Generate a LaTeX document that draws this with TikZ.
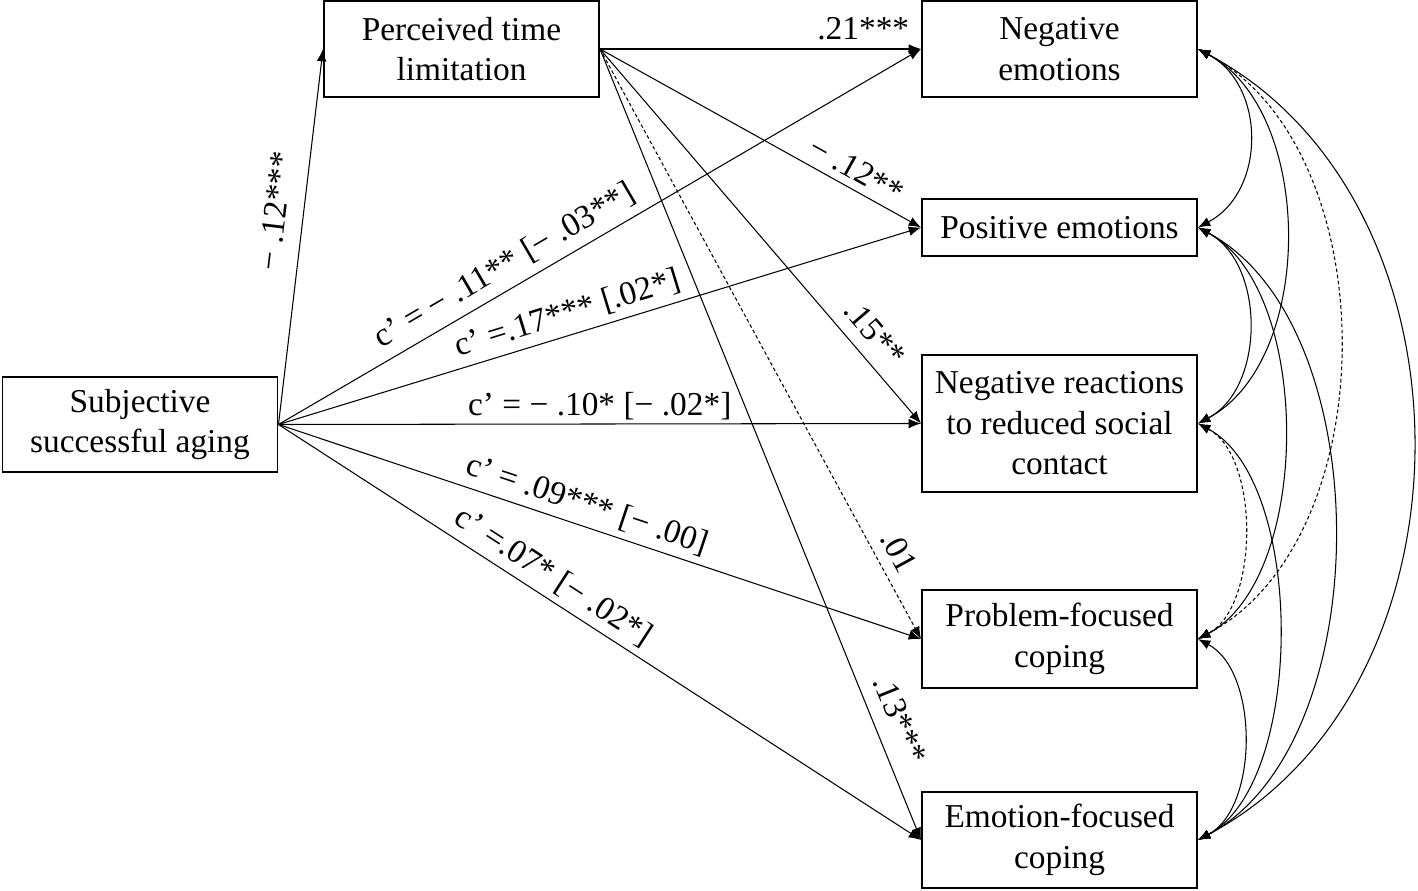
\documentclass[tikz,border=0pt]{standalone}
\usepackage{fontspec}
\setmainfont{Liberation Serif}
\usetikzlibrary{arrows.meta}
\begin{document}
\begin{tikzpicture}[
    box/.style={draw, line width=1.1pt, minimum width=5.5cm, align=center, inner sep=0pt},
    path/.style={line width=0.6pt, -{Latex[length=7pt,width=5.5pt]}},
    cov/.style={line width=0.6pt, {Latex[length=7pt,width=5.5pt]}-{Latex[length=7pt,width=5.5pt]}, bend left=62},
    fine/.style={dash pattern=on 2pt off 1.5pt},
    lbl/.style={sloped, above, inner sep=4pt},
    font=\fontsize{19}{23}\selectfont
]
    \useasboundingbox (0,0) rectangle (28.36,17.8);
    % boxes
    \node[box, minimum height=1.9cm] (ssa) at (2.8,9.31) {Subjective\\successful aging};
    \node[box, minimum height=1.92cm] (ptl) at (9.23,16.82) {Perceived time\\limitation};
    \node[box, minimum height=1.92cm] (ne) at (21.19,16.82) {Negative\\emotions};
    \node[box, minimum height=1.14cm] (pe) at (21.19,13.25) {Positive emotions};
    \node[box, minimum height=2.74cm] (nr) at (21.19,9.33) {Negative reactions\\to reduced social\\contact};
    \node[box, minimum height=1.96cm] (pfc) at (21.19,5.02) {Problem-focused\\coping};
    \node[box, minimum height=1.92cm] (efc) at (21.19,1.0) {Emotion-focused\\coping};
    % a path
    \draw[path] (ssa.east) -- node[lbl, pos=0.56, inner sep=9pt] {− .12***} (ptl.west);
    % b paths
    \draw[path] (ptl.east) -- node[lbl, pos=0.82, inner sep=5pt] {.21***} (ne.west);
    \draw[path] (ptl.east) -- node[lbl, pos=0.77] {− .12**} (pe.west);
    \draw[path] (ptl.east) -- node[lbl, pos=0.80, inner sep=7pt] {.15**} (nr.west);
    \draw[path, fine] (ptl.east) -- node[lbl, pos=0.87, inner sep=6pt] {.01} (pfc.west);
    \draw[path] (ptl.east) -- node[lbl, pos=0.86, inner sep=8pt] {.13***} (efc.west);
    % c' paths
    \draw[path] (ssa.east) -- node[lbl, pos=0.37, inner sep=5pt] {c’ = − .11** [− .03**]} (ne.west);
    \draw[path] (ssa.east) -- node[lbl, pos=0.46] {c’ =.17*** [.02*]} (pe.west);
    \draw[path] (ssa.east) -- node[lbl, pos=0.5, inner sep=2pt] {c’ = − .10* [− .02*]} (nr.west);
    \draw[path] (ssa.east) -- node[lbl, pos=0.47] {c’ = .09*** [− .00]} (pfc.west);
    \draw[path] (ssa.east) -- node[lbl, pos=0.41] {c’ =.07* [− .02*]} (efc.west);
    % covariances
    \draw[cov, looseness=1.11] (ne.east) to (pe.east);
    \draw[cov, looseness=0.91] (ne.east) to (nr.east);
    \draw[cov, fine, looseness=0.93] (ne.east) to (pfc.east);
    \draw[cov, looseness=1.05] (ne.east) to (efc.east);
    \draw[cov, looseness=1.0] (pe.east) to (nr.east);
    \draw[cov, looseness=0.81] (pe.east) to (pfc.east);
    \draw[cov, looseness=0.86] (pe.east) to (efc.east);
    \draw[cov, fine, looseness=0.83] (nr.east) to (pfc.east);
    \draw[cov, looseness=0.75] (nr.east) to (efc.east);
    \draw[cov, looseness=0.88] (pfc.east) to (efc.east);
\end{tikzpicture}
\end{document}
